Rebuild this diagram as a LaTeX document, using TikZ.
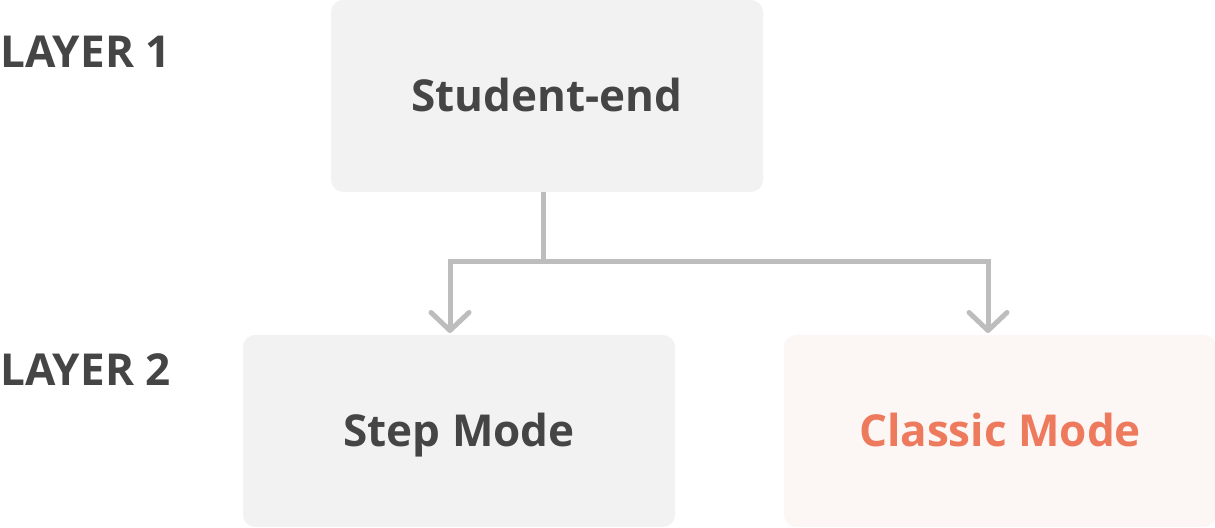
\documentclass[tikz,border=0pt]{standalone}
\usepackage{fontspec}
\setmainfont{Open Sans}
\usetikzlibrary{arrows.meta,positioning}

\definecolor{boxgray}{HTML}{F2F2F2}
\definecolor{boxpeach}{HTML}{FCF6F4}
\definecolor{inkgray}{HTML}{454545}
\definecolor{linkgray}{HTML}{BDBDBD}
\definecolor{accent}{HTML}{EE7A5E}

\tikzset{
  modebox/.style={fill=boxgray, rounded corners=6pt, minimum width=216pt, minimum height=96pt,
    text height=15.7pt, text depth=0pt, inner sep=0pt, text=inkgray,
    font=\fontsize{22}{26}\selectfont\bfseries},
  layerlabel/.style={anchor=base west, inner sep=0pt, text=inkgray,
    font=\fontsize{22}{26}\selectfont\bfseries},
  flow/.style={draw=linkgray, line width=2.5pt},
  flowtip/.style={-{Straight Barb[round, length=9pt, width=19pt]}, shorten >=1pt}
}

\begin{document}
\begin{tikzpicture}[x=0.5pt, y=-0.5pt]
        \useasboundingbox (0,0) rectangle (1215,528);
        % layers
        \node[layerlabel] (layer1) at (0,68) {LAYER 1};
        \node[layerlabel] (layer2) at (0,386) {LAYER 2};
        % boxes
        \node[modebox] (student) at (547,96) {Student-end};
        \node[modebox] (stepmode) at (459,431) {Step Mode};
        \node[modebox, fill=boxpeach, text=accent] (classic) at (1000,431) {Classic Mode};
        % wiring
        \coordinate (fork) at (543,262);
        \coordinate (stepin) at (450,335);
        \coordinate (classicin) at (988,335);
        \draw[flow] (student.south -| fork) -- (fork);
        \draw[flow, flowtip] (fork) -| (stepin);
        \draw[flow, flowtip] (fork) -| (classicin);
\end{tikzpicture}
\end{document}
